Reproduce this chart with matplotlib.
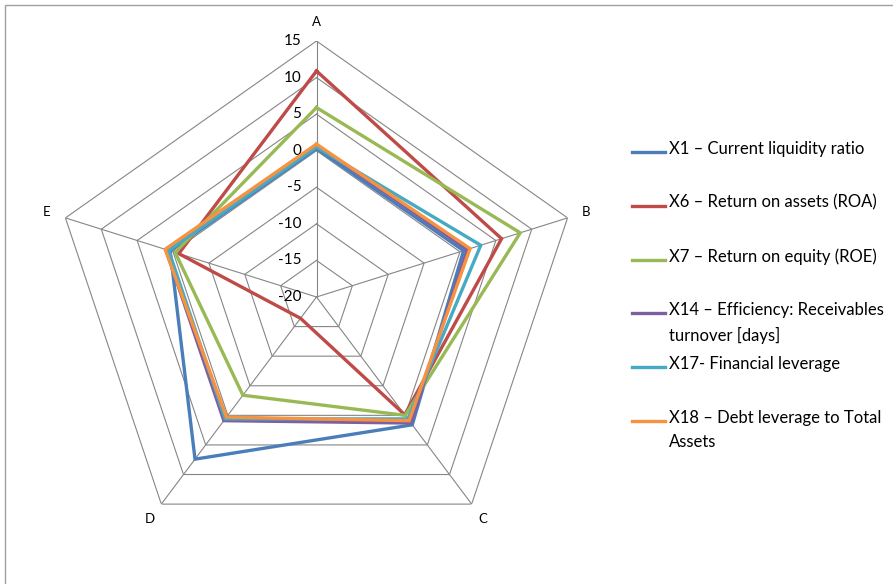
import numpy as np
import matplotlib
matplotlib.use('Agg')
import matplotlib.pyplot as plt
from matplotlib.lines import Line2D
from matplotlib.patches import Rectangle

plt.rcParams['font.family'] = ['Lato', 'DejaVu Sans']

categories = ['A', 'B', 'C', 'D', 'E']
ring_levels = [-20, -15, -10, -5, 0, 5, 10, 15]

series_names = [
    'X1 \u2013 Current liquidity ratio',
    'X6 \u2013 Return on assets (ROA)',
    'X7 \u2013 Return on equity (ROE)',
    'X14 \u2013 Efficiency: Receivables\nturnover [days]',
    'X17- Financial leverage',
    'X18 \u2013 Debt leverage to Total\nAssets',
]
x1 = [0.3, 0.5, 1.6, 7.4, 0.4]
x6 = [10.9, 5.8, -0.1, -16.4, -0.8]
x7 = [5.9, 8.4, 0.0, -3.4, -0.3]
x14 = [0.8, 1.0, 1.3, 0.9, 1.0]
x17 = [0.5, 2.9, 0.6, 0.6, 0.6]
x18 = [0.9, 1.4, 0.9, 0.3, 1.1]
series_values = [x1, x6, x7, x14, x17, x18]
colors = ['#4A7EBB', '#BE4B48', '#98B954', '#7D60A0', '#46AAC5', '#F69240']

W, H = 893, 584
fig = plt.figure(figsize=(W / 100, H / 100), dpi=100)

# plot area: centre (316.5, 297) px, slightly wider than tall
cx, cy, rx, ry = 316.5, 297, 264, 256
ax = fig.add_axes([(cx - rx) / W, (H - cy - ry) / H, 2 * rx / W, 2 * ry / H],
                  projection='polar')
ax.set_aspect('auto')
ax.set_theta_offset(np.pi / 2)
ax.set_theta_direction(-1)
ax.set_ylim(-20, 15)
ax.grid(False)
ax.spines['polar'].set_visible(False)
ax.set_xticks([])
ax.set_yticks([])
ax.patch.set_visible(False)

angles = np.linspace(0, 2 * np.pi, len(categories), endpoint=False)
closed = np.append(angles, angles[0])

# pentagon grid and spokes
grid_c = '#868686'
for lvl in ring_levels[1:]:
    ax.plot(closed, [lvl] * len(closed), color=grid_c, lw=0.8, zorder=1)
for a in angles:
    ax.plot([a, a], [-20, 15], color=grid_c, lw=0.8, zorder=1)

# value labels along the A spoke
for lvl in ring_levels:
    ax.annotate(str(lvl), (0, lvl), xytext=(-11, 0), textcoords='offset points',
                ha='right', va='center', fontsize=11, color='#000000')

for a, cat in zip(angles, categories):
    ax.text(a, 17.6, cat, ha='center', va='center', fontsize=9.5)

for vals, col in zip(series_values, colors):
    ax.plot(closed, vals + vals[:1], color=col, lw=2.4, zorder=3,
            solid_joinstyle='miter')

# legend, one slot per series, handle next to the first text line
leg_x0, leg_x1, txt_x = 632, 665, 669
y0, step = 152, 53.8
for i, (name, col) in enumerate(zip(series_names, colors)):
    y = y0 + i * step
    fig.add_artist(Line2D([leg_x0 / W, leg_x1 / W], [1 - y / H, 1 - y / H],
                          color=col, lw=2.4, transform=fig.transFigure))
    fig.text(txt_x / W, 1 - (y - 11) / H, name, ha='left', va='top',
             fontsize=12, linespacing=1.6)

# chart frame
fig.add_artist(Rectangle((5 / W, -0.1), 1.2, 1.1 - 5 / H, fill=False,
                         edgecolor='#A0A0A0', lw=1.0,
                         transform=fig.transFigure))

fig.savefig('out.png', dpi=100)
